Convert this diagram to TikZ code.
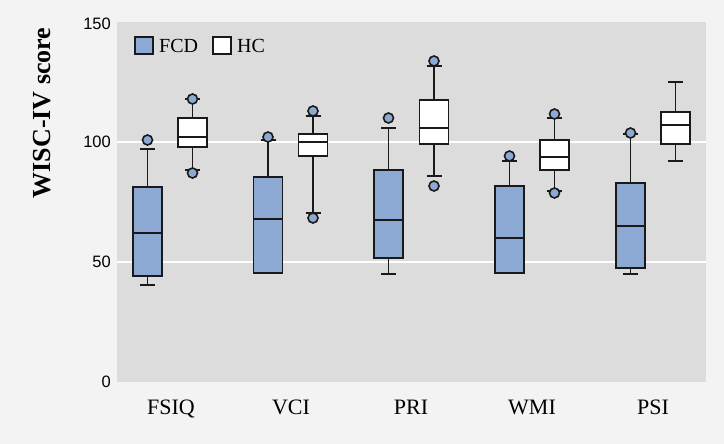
\documentclass[tikz,border=0pt]{standalone}
\usepackage{fontspec}
\setmainfont{Liberation Serif}
\newfontfamily\ticksans{Liberation Sans}
\definecolor{outerbg}{RGB}{243,243,243}
\definecolor{plotbg}{RGB}{220,220,220}
\definecolor{fcdblue}{RGB}{140,169,211}
\definecolor{lineblk}{RGB}{25,25,25}
\tikzset{
  boxline/.style={draw=lineblk, line width=1.9pt},
  whiskline/.style={draw=lineblk, line width=1.9pt},
  outlier/.style={draw=lineblk, line width=1.6pt, fill=fcdblue},
  gridw/.style={draw=white, line width=1.6pt},
  ticklab/.style={anchor=east, inner sep=0pt, font=\ticksans\fontsize{16.5}{18}\selectfont},
  catlab/.style={anchor=base, inner sep=0pt, font=\fontsize{22}{24}\selectfont},
  leglab/.style={anchor=west, inner sep=0pt, font=\fontsize{20}{22}\selectfont},
}
% box: x, q3(top), median, q1(bottom), fill
\newcommand\bxdraw[5]{%
  \draw[boxline, fill=#5] (#1-14.5,#2) rectangle (#1+14.5,#4);
  \draw[boxline] (#1-14.5,#3) -- (#1+14.5,#3);}
% whisker: x, from, to (with cap at 'to')
\newcommand\wkdraw[3]{%
  \draw[whiskline] (#1,#2) -- (#1,#3);
  \draw[whiskline] (#1-7.5,#3) -- (#1+7.5,#3);}
\newcommand\outdraw[2]{\draw[outlier] (#1,#2) circle (5);}
\begin{document}
\begin{tikzpicture}[x=1pt,y=-1pt]
\useasboundingbox (0,0) rectangle (724,444);
\fill[outerbg] (0,0) rectangle (724,444);
\fill[plotbg] (117,22) rectangle (706,382);
\draw[gridw] (117,142) -- (706,142);
\draw[gridw] (117,262) -- (706,262);
% tick labels
\node[ticklab] (t150) at (111,24) {150};
\node[ticklab] (t100) at (111,142) {100};
\node[ticklab] (t50) at (111,262) {50};
\node[ticklab] (t0) at (111,382) {0};
% y label
\node[rotate=90, inner sep=0pt, font=\bfseries\fontsize{26}{28}\selectfont] (ylab) at (42,113) {WISC-IV score};
% category labels
\node[catlab] (cFSIQ) at (171,414) {FSIQ};
\node[catlab] (cVCI) at (291,414) {VCI};
\node[catlab] (cPRI) at (411,414) {PRI};
\node[catlab] (cWMI) at (532,414) {WMI};
\node[catlab] (cPSI) at (653,414) {PSI};
% legend
\draw[boxline, line width=1.6pt, fill=fcdblue] (135,37) rectangle (153,54);
\node[leglab] (lFCD) at (159,46) {FCD};
\draw[boxline, line width=1.6pt, fill=white] (213,37) rectangle (231,54);
\node[leglab] (lHC) at (237,46) {HC};
% FSIQ FCD
\wkdraw{147.5}{187}{149}\wkdraw{147.5}{276}{285}
\bxdraw{147.5}{187}{233}{276}{fcdblue}
\outdraw{147.5}{140}
% FSIQ HC
\wkdraw{192.5}{118}{99}\wkdraw{192.5}{147}{170}
\bxdraw{192.5}{118}{137}{147}{white}
\outdraw{192.5}{99}\outdraw{192.5}{173}
% VCI FCD
\wkdraw{268}{177}{140}
\bxdraw{268}{177}{219}{273}{fcdblue}
\outdraw{268}{137}
% VCI HC
\wkdraw{313}{134}{116}\wkdraw{313}{156}{213}
\bxdraw{313}{134}{142}{156}{white}
\outdraw{313}{111}\outdraw{313}{218}
% PRI FCD
\wkdraw{388.5}{170}{128}\wkdraw{388.5}{258}{274}
\bxdraw{388.5}{170}{220}{258}{fcdblue}
\outdraw{388.5}{118}
% PRI HC
\wkdraw{434}{100}{66}\wkdraw{434}{144}{176}
\bxdraw{434}{100}{128}{144}{white}
\outdraw{434}{61}\outdraw{434}{186}
% WMI FCD
\wkdraw{509.5}{186}{161}
\bxdraw{509.5}{186}{238}{273}{fcdblue}
\outdraw{509.5}{156}
% WMI HC
\wkdraw{554.5}{140}{118}\wkdraw{554.5}{170}{191}
\bxdraw{554.5}{140}{157}{170}{white}
\outdraw{554.5}{114}\outdraw{554.5}{193}
% PSI FCD
\wkdraw{630.5}{183}{134}\wkdraw{630.5}{268}{274}
\bxdraw{630.5}{183}{226}{268}{fcdblue}
\outdraw{630.5}{133}
% PSI HC
\wkdraw{675.5}{112}{82}\wkdraw{675.5}{144}{161}
\bxdraw{675.5}{112}{125}{144}{white}
\end{tikzpicture}
\end{document}
